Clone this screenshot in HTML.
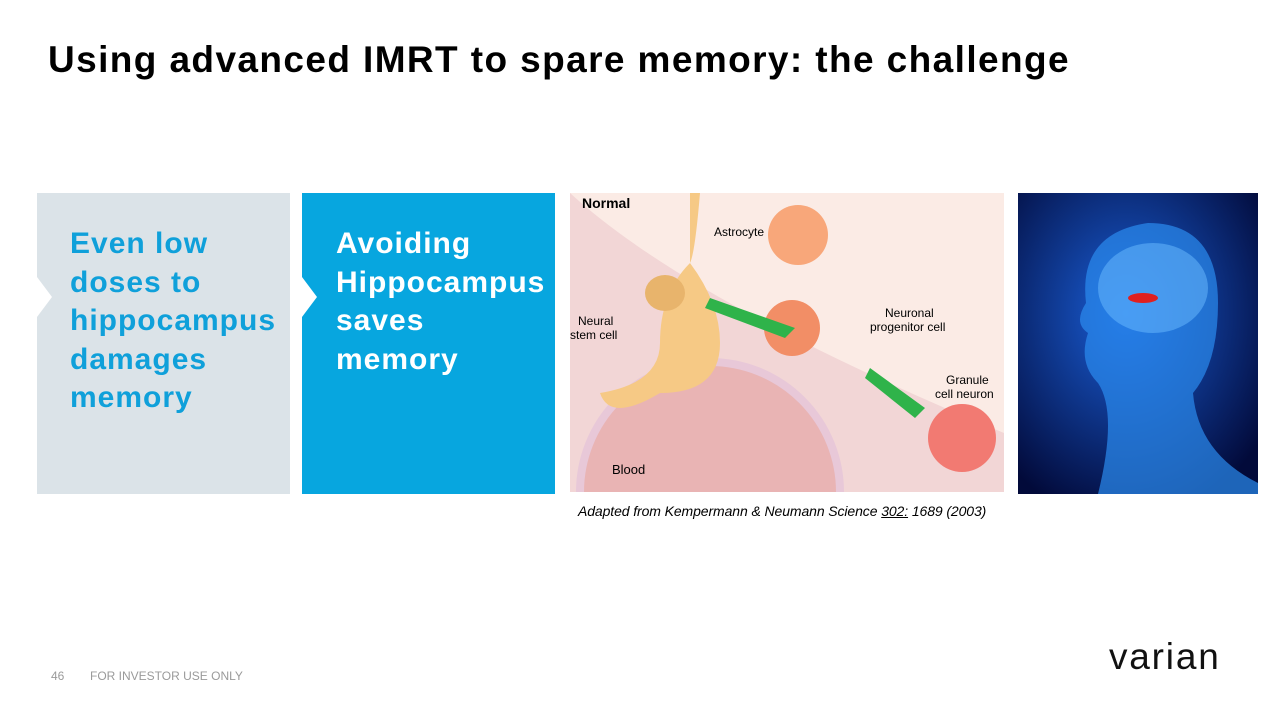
<!DOCTYPE html>
<html><head><meta charset="utf-8"><style>
body{margin:0;width:1280px;height:720px;background:#fff;position:relative;overflow:hidden;font-family:"Liberation Sans",Arial,sans-serif}
.a{position:absolute}
h1{position:absolute;left:48px;top:39px;margin:0;font-size:37px;font-weight:bold;color:#000;letter-spacing:1.4px}
.box{position:absolute;top:193px;height:301px;width:253px}
.txt{position:absolute;font-weight:bold;font-size:30px;line-height:38.5px;letter-spacing:1px}
</style></head><body>
<h1>Using advanced IMRT to spare memory: the challenge</h1>
<div class="box" style="left:37px;background:#dbe3e8"></div>
<svg class="a" style="left:37px;top:277px" width="16" height="40"><polygon points="0,0 15,20 0,40" fill="#fff"/></svg>
<div class="txt" style="left:70px;top:225px;color:#0fa0da">Even low<br>doses to<br>hippocampus<br>damages<br>memory</div>
<div class="box" style="left:302px;background:#07a6df"></div>
<svg class="a" style="left:302px;top:277px" width="16" height="40"><polygon points="0,0 15,20 0,40" fill="#fff"/></svg>
<div class="txt" style="left:336px;top:225px;color:#fff">Avoiding<br>Hippocampus<br>saves<br>memory</div>
<svg class="a" style="left:570px;top:193px" width="434" height="299">
<rect width="434" height="299" fill="#fbebe5"/>
<path d="M0,0 Q120,110 434,240 L434,299 L0,299Z" fill="#f2d6d6"/>
<circle cx="140" cy="299" r="130" fill="#e9b4b4" stroke="#e8c8d8" stroke-width="8"/>
<path d="M120,0 L130,0 Q125,60 120,70 Q150,110 150,150 Q150,200 90,200 Q40,230 30,200 Q90,190 90,150 Q90,100 120,70Z" fill="#f6c985"/>
<ellipse cx="95" cy="100" rx="20" ry="18" fill="#e8b46c"/>
<circle cx="228" cy="42" r="30" fill="#f8a77a"/>
<circle cx="222" cy="135" r="28" fill="#f28e66"/>
<circle cx="392" cy="245" r="34" fill="#f27a72"/>
<polygon points="140,105 225,135 215,145 135,115" fill="#2fb34a"/>
<polygon points="300,175 355,215 345,225 295,185" fill="#2fb34a"/>
<text x="12" y="15" font-size="14" font-weight="bold" font-family="Liberation Sans">Normal</text>
<text x="144" y="43" font-size="12" font-family="Liberation Sans">Astrocyte</text>
<text x="8" y="132" font-size="12" font-family="Liberation Sans">Neural</text>
<text x="0" y="146" font-size="12" font-family="Liberation Sans">stem cell</text>
<text x="315" y="124" font-size="12" font-family="Liberation Sans">Neuronal</text>
<text x="300" y="138" font-size="12" font-family="Liberation Sans">progenitor cell</text>
<text x="376" y="191" font-size="12" font-family="Liberation Sans">Granule</text>
<text x="365" y="205" font-size="12" font-family="Liberation Sans">cell neuron</text>
<text x="42" y="281" font-size="13" font-family="Liberation Sans">Blood</text>
</svg>
<svg class="a" style="left:1018px;top:193px" width="240" height="301">
<defs><radialGradient id="g" cx="0.45" cy="0.4" r="0.7"><stop offset="0" stop-color="#1a5fd8"/><stop offset="1" stop-color="#020a3a"/></radialGradient></defs>
<rect width="240" height="301" fill="url(#g)"/>
<path d="M80,301 Q100,220 80,190 Q60,170 70,140 Q55,130 68,110 Q60,40 130,30 Q200,30 200,110 Q200,170 175,200 Q180,260 240,290 L240,301Z" fill="#2b8cf0" opacity="0.7"/>
<ellipse cx="135" cy="95" rx="55" ry="45" fill="#6bbcff" opacity="0.5"/>
<ellipse cx="125" cy="105" rx="15" ry="5" fill="#e02020"/>
</svg>
<div class="a" style="left:578px;top:503px;font-size:14px;font-style:italic;color:#000;letter-spacing:-0.1px">Adapted from Kempermann &amp; Neumann Science <u>302:</u> 1689 (2003)</div>
<div class="a" style="left:51px;top:669px;font-size:12px;color:#9a9a9a">46</div>
<div class="a" style="left:90px;top:669px;font-size:12px;color:#9a9a9a">FOR INVESTOR USE ONLY</div>
<div class="a" style="left:1109px;top:636px;font-size:37px;color:#111;letter-spacing:1.8px">varian</div>
</body></html>
